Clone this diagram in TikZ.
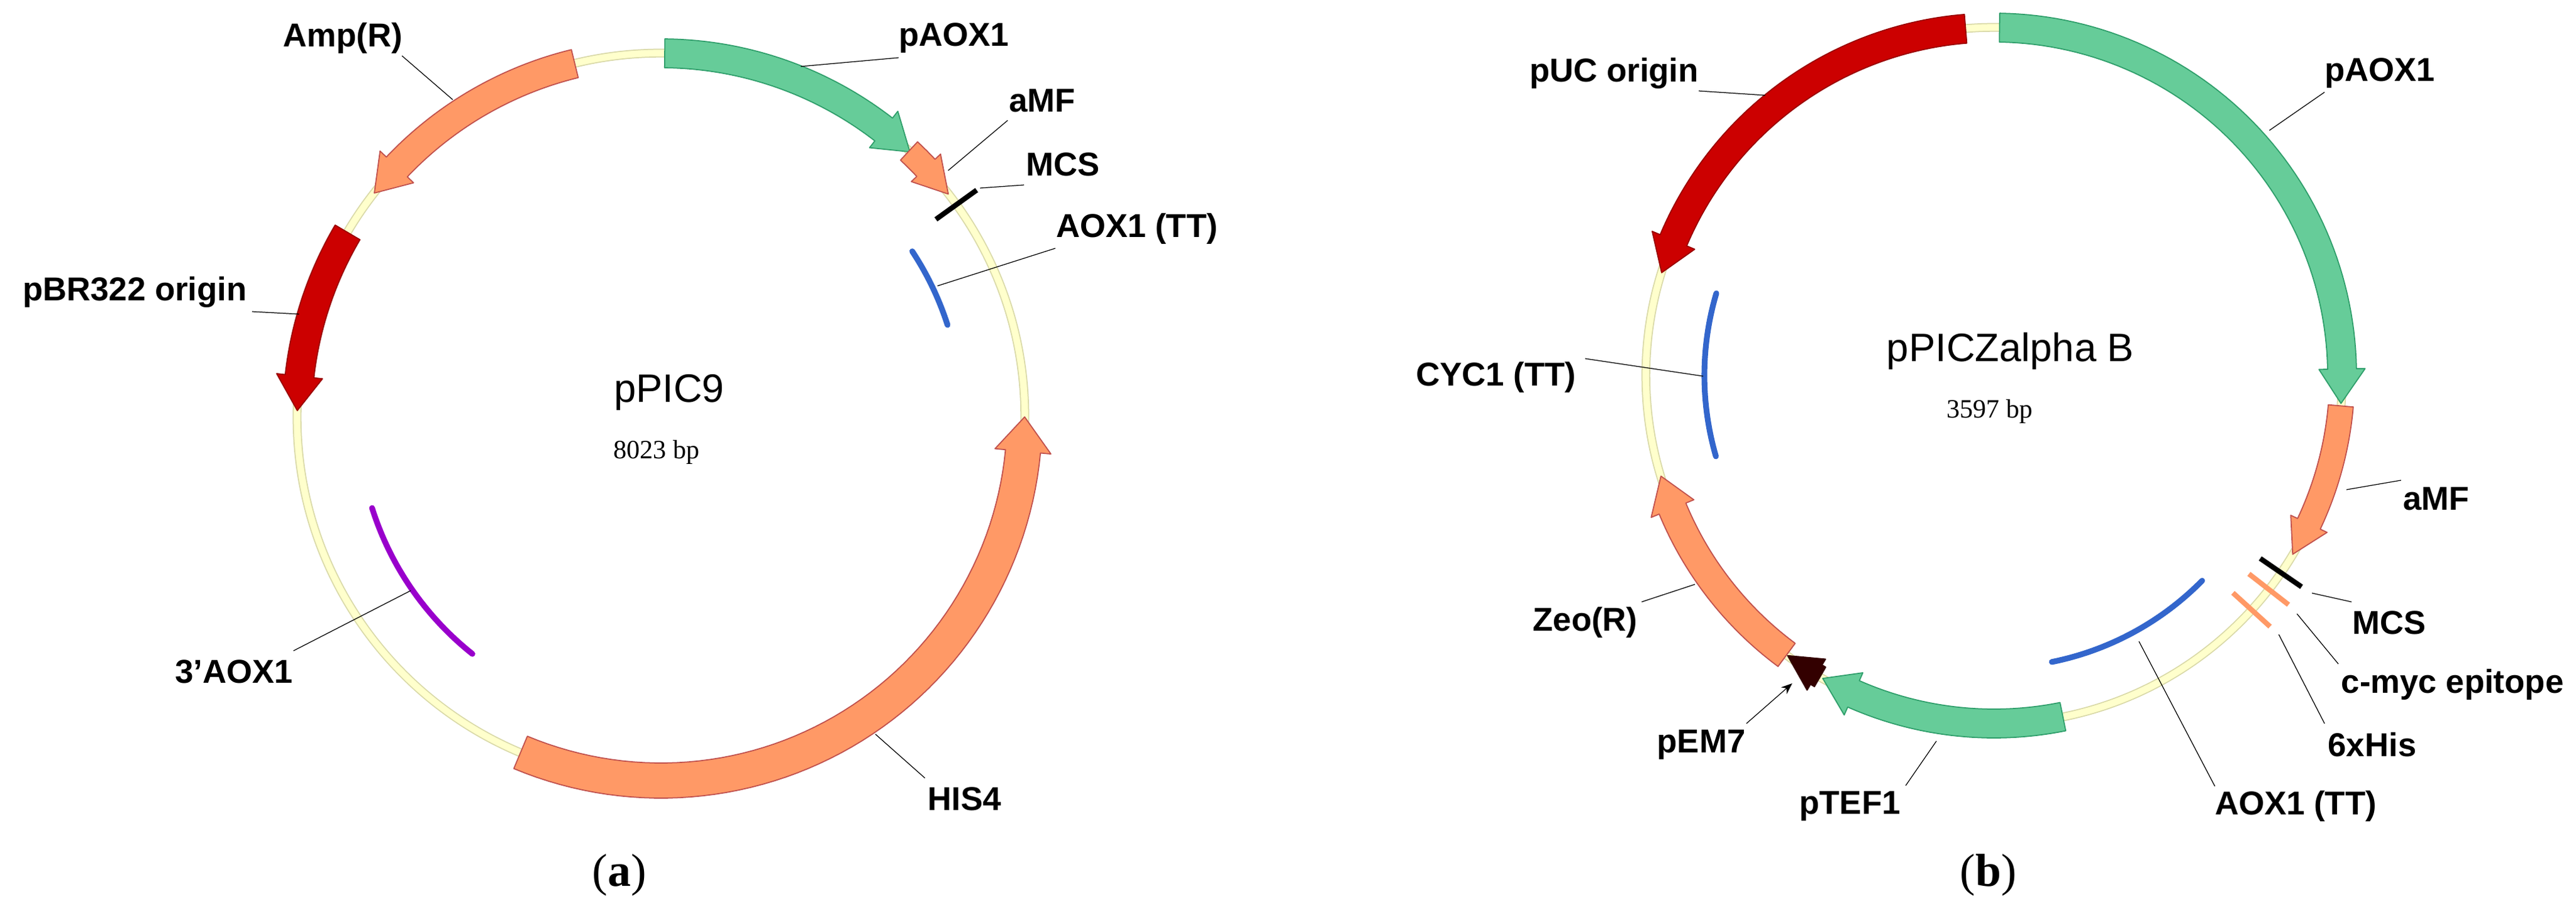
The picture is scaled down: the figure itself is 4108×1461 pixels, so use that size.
\documentclass[tikz,border=0pt]{standalone}
\usepackage{fontspec}
\setmainfont{Liberation Sans}
\newfontfamily\serifA{Liberation Serif}
\usetikzlibrary{arrows.meta}
\definecolor{grn}{HTML}{66CC99}\definecolor{grnD}{HTML}{2E9E6A}
\definecolor{org}{HTML}{FF9966}\definecolor{orgD}{HTML}{C0504D}
\definecolor{rd}{HTML}{CC0000}\definecolor{rdD}{HTML}{990000}
\definecolor{blu}{HTML}{3366CC}\definecolor{pur}{HTML}{9900CC}
\definecolor{brn}{HTML}{330000}
\definecolor{ringF}{HTML}{FFFFCC}\definecolor{ringD}{HTML}{D9D9A8}
\newcommand\feat[8]{%
 \pgfmathsetmacro\FtD{ifthenelse(#5>#4,1,-1)}%
 \pgfmathsetmacro\FtH{\FtD*min(55/#3*57.2958,abs(#5-#4))}%
 \pgfmathsetmacro\FtB{#5-\FtH}%
 \pgfmathsetmacro\FtRo{#3+#6}\pgfmathsetmacro\FtRi{#3-#6}%
 \pgfmathsetmacro\FtRho{#3+1.6*#6}\pgfmathsetmacro\FtRhi{#3-1.6*#6}%
 \filldraw[fill=#7,draw=#8,line width=0.5pt,line join=round]
  plot[domain=#4:\FtB,samples=60] ({#1+\FtRo*cos(\x)},{#2+\FtRo*sin(\x)})
  -- ({#1+\FtRho*cos(\FtB)},{#2+\FtRho*sin(\FtB)})
  -- ({#1+#3*cos(#5)},{#2+#3*sin(#5)})
  -- ({#1+\FtRhi*cos(\FtB)},{#2+\FtRhi*sin(\FtB)})
  -- plot[domain=\FtB:#4,samples=60] ({#1+\FtRi*cos(\x)},{#2+\FtRi*sin(\x)}) -- cycle;}
\newcommand\arcline[6]{% cx cy r t1 t2 color
 \draw[#6,line width=2.6pt,line cap=round] plot[domain=#4:#5,samples=50] ({#1+#3*cos(\x)},{#2+#3*sin(\x)});}
\newcommand\tick[5]{% cx cy r angle color
 \draw[#5,line width=2.3pt] ({#1+(#3-40)*cos(#4)},{#2+(#3-40)*sin(#4)}) -- ({#1+(#3+40)*cos(#4)},{#2+(#3+40)*sin(#4)});}
\tikzset{lab/.style={font=\fontsize{15}{18}\selectfont\bfseries,inner sep=0pt},
 title/.style={font=\fontsize{18}{20}\selectfont,inner sep=0pt},
 bp/.style={font=\serifA\fontsize{12}{14}\selectfont,inner sep=0pt},
 captext/.style={font=\serifA\fontsize{21}{24}\selectfont,inner sep=0pt},
 lead/.style={black,line width=0.35pt}}
\begin{document}
\begin{tikzpicture}[x=0.01cm,y=-0.01cm]
\useasboundingbox[fill=white] (0,0) rectangle (4108,1461);
% ===== plasmid a =====
\def\ax{1054}\def\ay{665}\def\ar{580}
\draw[ringD,line width=4pt] (\ax,\ay) circle[radius=5.8cm];
\draw[ringF,line width=3pt] (\ax,\ay) circle[radius=5.8cm];
\feat{\ax}{\ay}{\ar}{-89.4}{-46.8}{23}{grn}{grnD}
\feat{\ax}{\ay}{\ar}{-47}{-37.8}{20}{org}{orgD}
\tick{\ax}{\ay}{\ar}{-35.7}{black}
\arcline{\ax}{\ay}{480}{-33.4}{-17.8}{blu}
\feat{\ax}{\ay}{\ar}{112.7}{0}{28}{org}{orgD}
\arcline{\ax}{\ay}{483}{162.5}{128.5}{pur}
\feat{\ax}{\ay}{\ar}{210.5}{181}{23}{rd}{rdD}
\feat{\ax}{\ay}{\ar}{256.3}{218}{23}{org}{orgD}
\node[title] (tA) at (1067,626) {pPIC9};
\node[bp] (bA) at (1047,721) {8023 bp};
\node[captext] (cA) at (988,1396) {(\textbf{a})};
\node[lab] (lAmp) at (547,61) {Amp(R)};
\node[lab] (lpA) at (1521,61) {pAOX1};
\node[lab] (laM) at (1662,161) {aMF};
\node[lab] (lMC) at (1695,262) {MCS};
\node[lab] (lAT) at (1813,365) {AOX1 (TT)};
\node[lab] (lBR) at (215,466) {pBR322 origin};
\node[lab] (l3A) at (373,1071) {3'AOX1};
\node[lab] (lHI) at (1538,1274) {HIS4};
\coordinate (a1s) at (641,89);\coordinate (a1e) at (722,159);
\coordinate (a2s) at (1433,92);\coordinate (a2e) at (1277,106);
\coordinate (a3s) at (1607,192);\coordinate (a3e) at (1512,272);
\coordinate (a4s) at (1633,295);\coordinate (a4e) at (1563,300);
\coordinate (a5s) at (1683,396);\coordinate (a5e) at (1495,456);
\coordinate (a6s) at (402,497);\coordinate (a6e) at (477,501);
\coordinate (a7s) at (468,1038);\coordinate (a7e) at (655,942);
\coordinate (a8s) at (1475,1241);\coordinate (a8e) at (1396,1171);
\foreach \i in {1,...,8}{\draw[lead] (a\i s) -- (a\i e);}
% ===== plasmid b =====
\def\bx{3180}\def\by{599}\def\br{555}
\draw[ringD,line width=4pt] (\bx,\by) circle[radius=5.55cm];
\draw[ringF,line width=3pt] (\bx,\by) circle[radius=5.55cm];
\feat{\bx}{\by}{\br}{-89.1}{4.6}{23}{grn}{grnD}
\feat{\bx}{\by}{\br}{5}{30.9}{20}{org}{orgD}
\tick{\bx}{\by}{\br}{34.5}{black}
\tick{\bx}{\by}{\br}{37.9}{org}
\tick{\bx}{\by}{\br}{42.3}{org}
\arcline{\bx}{\by}{466}{44.6}{78.6}{blu}
\feat{\bx}{\by}{\br}{78.6}{119.5}{23}{grn}{grnD}
\feat{\bx}{\by}{\br}{120}{126.4}{18}{brn}{brn}
\feat{\bx}{\by}{\br}{126.6}{163.2}{23}{org}{orgD}
\arcline{\bx}{\by}{462}{196.5}{163.8}{blu}
\feat{\bx}{\by}{\br}{265.3}{197.2}{23}{rd}{rdD}
\node[title] (tB) at (3206,560) {pPICZalpha B};
\node[bp] (bB) at (3173,656) {3597 bp};
\node[captext] (cB) at (3171,1396) {(\textbf{b})};
\node[lab] (mUC) at (2574,117) {pUC origin};
\node[lab] (mpA) at (3795,117) {pAOX1};
\node[lab] (maM) at (3885,796) {aMF};
\node[lab] (mMC) at (3810,993) {MCS};
\node[lab] (mcm) at (3911,1092) {c-myc epitope};
\node[lab] (m6H) at (3783,1188) {6xHis};
\node[lab] (mAT) at (3661,1286) {AOX1 (TT)};
\node[lab] (mTE) at (2950,1286) {pTEF1};
\node[lab] (mEM) at (2713,1188) {pEM7};
\node[lab] (mZe) at (2528,993) {Zeo(R)};
\node[lab] (mCY) at (2386,602) {CYC1 (TT)};
\coordinate (b1s) at (2709,145);\coordinate (b1e) at (2815,152);
\coordinate (b2s) at (3707,147);\coordinate (b2e) at (3619,208);
\coordinate (b3s) at (3829,766);\coordinate (b3e) at (3742,781);
\coordinate (b4s) at (3750,960);\coordinate (b4e) at (3687,946);
\coordinate (b5s) at (3729,1059);\coordinate (b5e) at (3663,979);
\coordinate (b6s) at (3707,1154);\coordinate (b6e) at (3634,1012);
\coordinate (b7s) at (3532,1254);\coordinate (b7e) at (3411,1023);
\coordinate (b8s) at (3039,1253);\coordinate (b8e) at (3088,1182);
\coordinate (b10s) at (2618,960);\coordinate (b10e) at (2703,932);
\coordinate (b11s) at (2528,572);\coordinate (b11e) at (2716,600);
\foreach \i in {1,...,8,10,11}{\draw[lead] (b\i s) -- (b\i e);}
\coordinate (b9s) at (2785,1154);\coordinate (b9e) at (2858,1090);
\draw[lead,-{Stealth[length=5pt,width=4pt]}] (b9s) -- (b9e);
\end{tikzpicture}
\end{document}
